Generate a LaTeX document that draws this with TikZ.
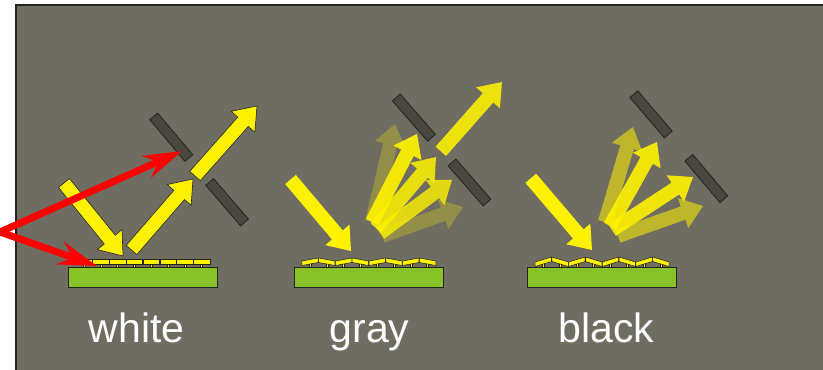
\documentclass[tikz,border=0pt]{standalone}
\usepackage{fontspec}
\setmainfont{Liberation Sans}
\usetikzlibrary{calc,arrows.meta}
\definecolor{panelgray}{RGB}{111,109,97}
\definecolor{slabgray}{RGB}{74,71,64}
\definecolor{leafgreen}{RGB}{134,194,40}
\definecolor{lightyellow}{RGB}{255,242,0}
\definecolor{edgedark}{RGB}{38,36,30}

% block arrow sizes
\newcommand{\shaftw}{6pt}
\newcommand{\headw}{13.5pt}
\newcommand{\headlen}{18pt}

% block arrow from tail #2 to tip #3
\newcommand{\blockarrow}[3][]{%
  \coordinate (neck) at ($(#3)!\headlen!(#2)$);
  \path[#1] ($(#2)!\shaftw!90:(#3)$) -- ($(neck)!\shaftw!90:(#3)$)
    -- ($(neck)!\headw!90:(#3)$) -- (#3) -- ($(neck)!\headw!-90:(#3)$)
    -- ($(neck)!\shaftw!-90:(#3)$) -- ($(#2)!\shaftw!-90:(#3)$) -- cycle;
}

% dark slab between #1 and #2
\newcommand{\slab}[2]{%
  \filldraw[slabstyle] ($(#1)!4.4pt!90:(#2)$) -- ($(#2)!4.4pt!-90:(#1)$)
    -- ($(#2)!4.4pt!90:(#1)$) -- ($(#1)!4.4pt!-90:(#2)$) -- cycle;
}

% row of 8 small plates on posts, #1 = left edge of base, #2 = tilt
\newcommand{\platerow}[2]{%
  \foreach \j in {0,...,7}{
    \pgfmathsetmacro{\cx}{#1+16+16.8*\j}
    \pgfmathsetmacro{\plrise}{ifthenelse(mod(\j,2)==0,#2,-(#2))}
    \pgfmathsetmacro{\yl}{259.5+\plrise}
    \pgfmathsetmacro{\yr}{259.5-\plrise}
    \filldraw[plate] (\cx-1,262) rectangle (\cx+1,267);
    \filldraw[plate] (\cx-8.2,\yl) -- (\cx+8.2,\yr) -- (\cx+8.2,\yr+4.5)
      -- (\cx-8.2,\yl+4.5) -- cycle;
  }
}

\tikzset{
  base/.style={fill=leafgreen, draw=edgedark, line width=0.6pt},
  plate/.style={fill=lightyellow, draw=edgedark, line width=0.45pt},
  slabstyle/.style={fill=slabgray, draw=edgedark, line width=0.7pt},
  ray/.style={fill=lightyellow, draw=edgedark, line width=0.5pt},
  beam/.style={fill=lightyellow, fill opacity=#1},
  redray/.style={draw=red, line width=6pt,
    -{Stealth[length=33pt,width=20pt,inset=11pt]}},
  caption/.style={text=white, anchor=base, inner sep=0pt,
    font=\fontsize{35}{42}\selectfont}
}

\begin{document}
\begin{tikzpicture}[x=0.03cm, y=-0.03cm]
  \useasboundingbox (0,0) rectangle (823,370);
  % backdrop
  \fill[panelgray] (16,5) rectangle (830,375);
  \draw[edgedark, line width=1.3pt] (16,375) -- (16,5) -- (830,5);

  % --- white ---
  \filldraw[base] (68,267) rectangle (217,287);
  \platerow{68}{0}
  \slab{153.7,116.4}{188.8,158}
  \slab{209.7,182}{244.5,222.5}
  \blockarrow[ray]{64,183}{123,256}
  \blockarrow[ray]{131.5,250}{193,179}
  \blockarrow[ray]{195,176}{257,106}
  \coordinate (lamp) at (0,232);
  \coordinate (hitslab) at (182,151);
  \coordinate (hitplate) at (97,266);
  \draw[redray] (lamp) -- (hitslab);
  \draw[redray] (lamp) -- (hitplate);
  \node[caption] (lbl-white) at (136.5,342) {white};

  % --- gray ---
  \filldraw[base] (294,267) rectangle (443,287);
  \platerow{294}{1.5}
  \slab{396.3,97.5}{431.5,137.8}
  \slab{452,162.5}{487,202.5}
  \blockarrow[beam=1]{290.5,179.5}{351,251}
  \blockarrow[beam=0.25]{372,222}{395,124}
  \blockarrow[beam=0.25]{382,236}{463,207}
  \blockarrow[beam=0.8]{380,233}{452,180}
  \blockarrow[beam=0.85]{376,228}{436,157}
  \blockarrow[beam=0.92]{372,222}{417,134}
  \blockarrow[beam=0.88]{440.8,151.3}{502,82}
  \node[caption] (lbl-gray) at (369.5,342) {gray};

  % --- black ---
  \filldraw[base] (527.3,267) rectangle (676.3,287);
  \platerow{527.3}{2.5}
  \slab{633.8,94.2}{668.3,134.5}
  \slab{688.8,157.8}{723.8,199.2}
  \blockarrow[beam=1]{530.8,178.3}{592,250}
  \blockarrow[beam=0.55]{605,222}{633,127}
  \blockarrow[beam=0.55]{618,236}{703,206}
  \blockarrow[beam=0.9]{610,226}{657,142}
  \blockarrow[beam=0.9]{612,230}{693,177}
  \node[caption] (lbl-black) at (606.5,342) {black};
\end{tikzpicture}
\end{document}
